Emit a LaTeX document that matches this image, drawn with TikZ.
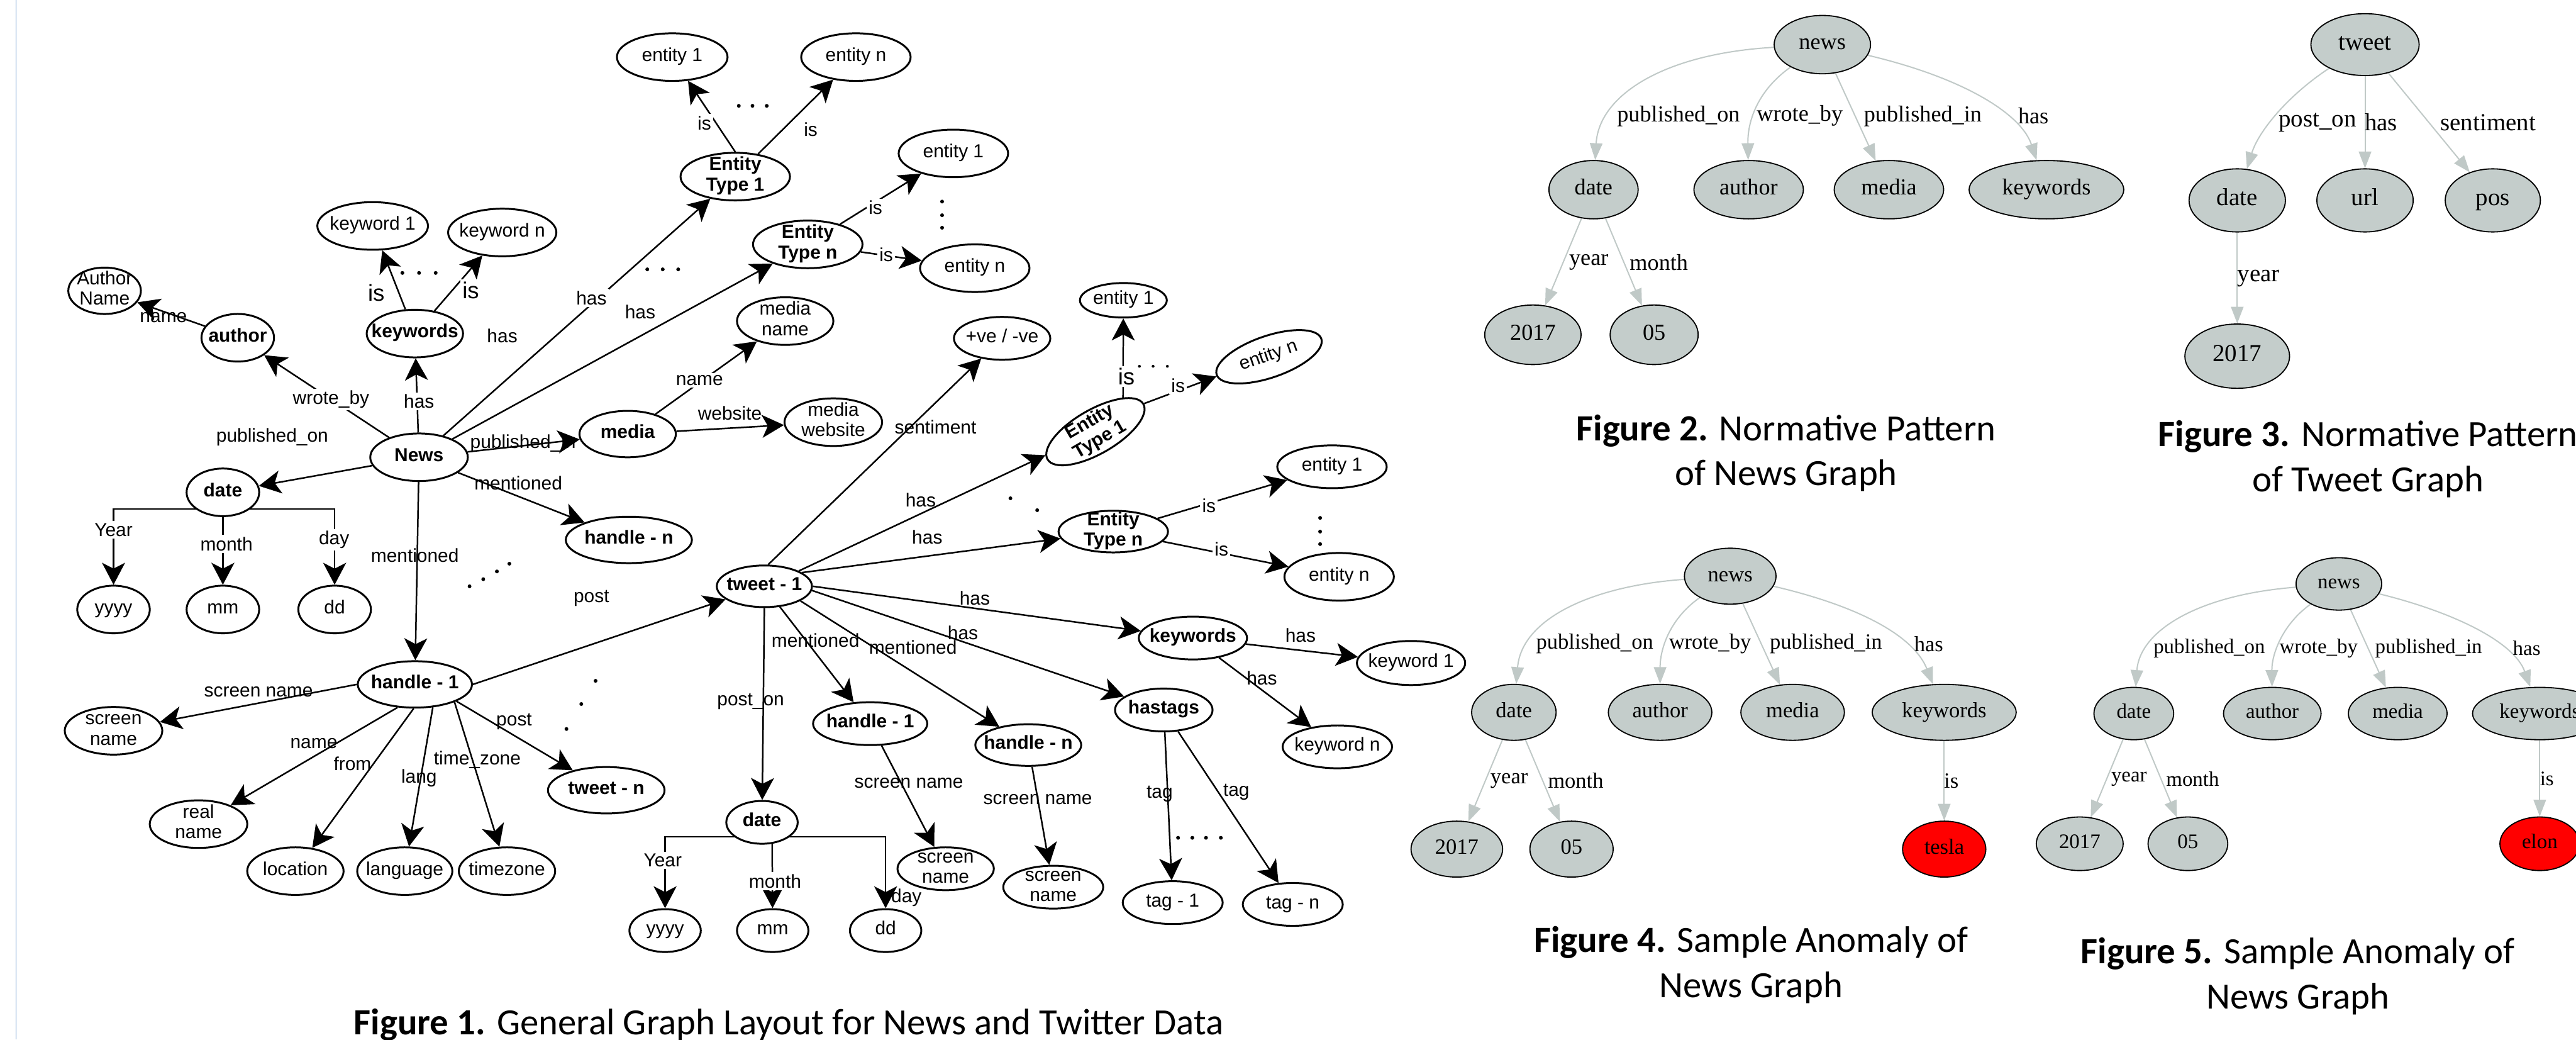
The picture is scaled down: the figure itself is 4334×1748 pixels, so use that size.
\documentclass[tikz,border=0pt]{standalone}
\usepackage{fontspec}
\setmainfont{Liberation Sans}
\newfontfamily\fa{Liberation Sans}
\newfontfamily\fs{Liberation Serif}
\newfontfamily\fc{Carlito}
\usetikzlibrary{shapes.geometric,arrows.meta}
\pgfdeclarelayer{back}
\pgfdeclarelayer{bg}
\pgfsetlayers{back,bg,main}
\definecolor{gvfill}{RGB}{196,205,203}
\definecolor{gvedge}{RGB}{192,201,199}
\definecolor{leftblue}{RGB}{100,150,205}
\newcommand\nt[1]{\makebox[0pt]{\raisebox{-0.25em}[0pt][0pt]{\begin{tabular}{@{}c@{}}#1\end{tabular}}}}
\tikzset{
 sz/.style 2 args={minimum width=#1*0.02cm, minimum height=#2*0.02cm},
 en/.style={ellipse, draw, line width=0.9pt, fill=white, inner sep=0pt, font=\fa\fontsize{9}{9.8}\selectfont},
 eb/.style={en, font=\fa\fontsize{9}{9.8}\selectfont\bfseries},
 ar/.style={line width=0.75pt, -{Stealth[length=10.5pt,width=11pt,inset=2.8pt]}},
 lb/.style={font=\fa\fontsize{9}{10}\selectfont, inner sep=1pt},
 lw/.style={lb, fill=white},
 lbig/.style={lw, font=\fa\fontsize{11}{12}\selectfont},
 gv/.style={ellipse, draw, line width=0.55pt, fill=gvfill, inner sep=0pt},
 gv2/.style={gv, font=\fs\fontsize{10.9}{12}\selectfont},
 gv3/.style={gv, font=\fs\fontsize{11.7}{13}\selectfont},
 gv4/.style={gv, font=\fs\fontsize{10.4}{12}\selectfont},
 gv5/.style={gv, font=\fs\fontsize{9.9}{11}\selectfont},
 gl2/.style={inner sep=0pt, font=\fs\fontsize{10.9}{12}\selectfont},
 gl3/.style={inner sep=0pt, font=\fs\fontsize{11.7}{13}\selectfont},
 gl4/.style={inner sep=0pt, font=\fs\fontsize{10.4}{12}\selectfont},
 gl5/.style={inner sep=0pt, font=\fs\fontsize{9.9}{11}\selectfont},
 ge/.style={draw=gvedge, line width=0.6pt, -{Triangle[length=8pt,width=6pt]}},
 capt/.style={font=\fc\fontsize{17.7}{21.6}\selectfont, align=center, inner sep=0pt},
}
\begin{document}
\begin{tikzpicture}[x=0.01cm, y=-0.01cm]
\useasboundingbox (0,0) rectangle (4334,1748);
\begin{pgfonlayer}{back}
\fill[white] (0,0) rectangle (4334,1748);
\draw[leftblue, line width=0.5pt] (27,0) -- (27,1748);
\end{pgfonlayer}

% ---------------- Figure 1: news part ----------------
\node[en, sz={93}{40}] (e1a) at (1131,96) {\nt{entity 1}};
\node[en, sz={92}{40}] (ena) at (1440,96) {\nt{entity n}};
\node[eb, sz={92}{40}] (et1) at (1237,297) {\nt{Entity\\Type 1}};
\node[en, sz={92}{40}] (e1b) at (1604,258) {\nt{entity 1}};
\node[eb, sz={92}{40}] (etn) at (1359,411) {\nt{Entity\\Type n}};
\node[en, sz={92}{40}] (enb) at (1640,451) {\nt{entity n}};
\node[en, sz={93}{40}] (kw1) at (627,380) {\nt{keyword 1}};
\node[en, sz={91}{40}] (kwn) at (845,391) {\nt{keyword n}};
\node[en, sz={61}{39}] (aname) at (176,489) {\nt{Author\\Name}};
\node[eb, sz={61}{40}] (author) at (400,568) {\nt{author}};
\node[eb, sz={81}{40}] (kws) at (698,561) {\nt{keywords}};
\node[eb, sz={82}{40}] (news) at (705,769) {\nt{News}};
\node[en, sz={81}{40}] (mname) at (1321,540) {\nt{media\\name}};
\node[eb, sz={81}{39}] (media) at (1056,730) {\nt{media}};
\node[en, sz={82}{40}] (mweb) at (1402,710) {\nt{media\\website}};
\node[eb, sz={61}{40}] (date1) at (375,828) {\nt{date}};
\node[en, sz={61}{40}] (yyyy1) at (191,1025) {\nt{yyyy}};
\node[en, sz={61}{40}] (mm1) at (375,1025) {\nt{mm}};
\node[en, sz={61}{40}] (dd1) at (563,1025) {\nt{dd}};
\node[eb, sz={106}{39}] (hn1) at (1058,908) {\nt{handle - n}};
\node[eb, sz={96}{39}] (h1) at (698,1151) {\nt{handle - 1}};
\node[en, sz={82}{40}] (sn1) at (191,1229) {\nt{screen\\name}};
\node[en, sz={82}{40}] (rn) at (334,1386) {\nt{real\\name}};
\node[en, sz={81}{40}] (loc) at (497,1465) {\nt{location}};
\node[en, sz={80}{40}] (lang) at (681,1465) {\nt{language}};
\node[en, sz={81}{40}] (tz) at (853,1465) {\nt{timezone}};
\node[eb, sz={98}{39}] (twn) at (1020,1329) {\nt{tweet - n}};

% ---------------- Figure 1: tweet part ----------------
\node[eb, sz={80}{35}] (tw1) at (1286,986) {\nt{tweet - 1}};
\node[en, sz={81}{36}] (sent) at (1686,569) {\nt{+ve / -ve}};
\node[en, sz={73}{29}] (te1) at (1890,505) {\nt{entity 1}};
\node[en, sz={93}{35}, rotate=19] (ten) at (2135,600) {\nt{entity n}};
\node[eb, sz={93}{37}, rotate=30] (tet1) at (1843,726) {\nt{Entity\\Type 1}};
\node[en, sz={92}{36}] (te1b) at (2241,785) {\nt{entity 1}};
\node[eb, sz={92}{35}] (tetn) at (1873,894) {\nt{Entity\\Type n}};
\node[en, sz={92}{40}] (tenb) at (2253,970) {\nt{entity n}};
\node[eb, sz={91}{36}] (tkw) at (2007,1073) {\nt{keywords}};
\node[en, sz={91}{37}] (tkw1) at (2374,1115) {\nt{keyword 1}};
\node[en, sz={92}{36}] (tkwn) at (2250,1256) {\nt{keyword n}};
\node[eb, sz={82}{36}] (hash) at (1958,1194) {\nt{hastags}};
\node[eb, sz={96}{36}] (th1) at (1464,1217) {\nt{handle - 1}};
\node[eb, sz={89}{35}] (thn) at (1730,1253) {\nt{handle - n}};
\node[eb, sz={60}{36}] (tdate) at (1282,1383) {\nt{date}};
\node[en, sz={60}{36}] (tyyyy) at (1119,1565) {\nt{yyyy}};
\node[en, sz={60}{36}] (tmm) at (1300,1565) {\nt{mm}};
\node[en, sz={60}{36}] (tdd) at (1490,1565) {\nt{dd}};
\node[en, sz={81}{36}] (tsn1) at (1591,1461) {\nt{screen\\name}};
\node[en, sz={84}{36}] (tsn2) at (1772,1492) {\nt{screen\\name}};
\node[en, sz={84}{36}] (tag1) at (1973,1518) {\nt{tag - 1}};
\node[en, sz={84}{36}] (tagn) at (2175,1521) {\nt{tag - n}};

\coordinate (d1l) at (375,856);
\coordinate (d2l) at (1282,1407);
\coordinate (d2m) at (1299,1405);

\begin{pgfonlayer}{bg}
\draw[ar] (news) -- (author);
\draw[ar] (author) -- (aname);
\draw[ar] (news) -- (kws);
\draw[ar] (kws) -- (kw1);
\draw[ar] (kws) -- (kwn);
\draw[ar] (news) -- (et1);
\draw[ar] (news) -- (etn);
\draw[ar] (et1.north) -- (e1a);
\draw[ar] (et1) -- (ena);
\draw[ar] (etn) -- (e1b);
\draw[ar] (etn) -- (enb);
\draw[ar] (news) -- (media);
\draw[ar] (media) -- (mname);
\draw[ar] (media) -- (mweb);
\draw[ar] (news) -- (date1);
\draw[ar] (news) -- (hn1);
\draw[ar] (news) -- (h1);
\draw[ar] (d1l) -| (yyyy1);
\draw[ar] (d1l) -| (dd1);
\draw[ar] (date1) -- (mm1);
\draw[ar] (h1.west) -- (sn1);
\draw[ar] (h1.-127) -- (rn);
\draw[ar] (h1.-93) -- (loc);
\draw[ar] (h1.-52) -- (lang);
\draw[ar] (h1.-24) -- (tz);
\draw[ar] (h1.-22) -- (twn);
\draw[ar] (h1.east) -- (tw1);
\draw[ar] (tw1.80) -- (sent);
\draw[ar] (tw1.24) -- (tet1);
\draw[ar] (tw1.20) -- (tetn);
\draw[ar] (tw1.east) -- (tkw);
\draw[ar] (tw1.-5) -- (hash);
\draw[ar] (tw1.-22) -- (thn);
\draw[ar] (tw1.-53) -- (th1);
\draw[ar] (tw1.south) -- (tdate);
\draw[ar] (tet1.21) -- (te1);
\draw[ar] (tet1.east) -- (ten);
\draw[ar] (tetn) -- (te1b);
\draw[ar] (tetn) -- (tenb);
\draw[ar] (tkw) -- (tkw1);
\draw[ar] (tkw) -- (tkwn);
\draw[ar] (hash) -- (tag1);
\draw[ar] (hash) -- (tagn);
\draw[ar] (th1) -- (tsn1);
\draw[ar] (thn) -- (tsn2);
\draw[ar] (d2l) -| (tyyyy);
\draw[ar] (d2l) -| (tdd);
\draw[ar] (d2m) -- (tmm);
\end{pgfonlayer}

% labels figure 1
\node[lb] (lname) at (275,534) {name};
\node[lw] (lwrote) at (557,672) {wrote\_by};
\node[lw] (lhas1) at (705,675) {has};
\node[lbig] (lis1) at (633,492) {is};
\node[lbig] (lis2) at (792,488) {is};
\node[lb] (lhas2) at (845,565) {has};
\node[lw] (lhas3) at (995,501) {has};
\node[lw] (lhas4) at (1077,525) {has};
\node[lb] (lpubon) at (458,735) {published\_on};
\node[lb] (lpubin) at (880,746) {published\_in};
\node[lb] (lmen1) at (872,812) {mentioned};
\node[lw] (lis3) at (1185,207) {is};
\node[lw] (lis4) at (1364,218) {is};
\node[lw] (lis5) at (1473,349) {is};
\node[lw] (lis6) at (1491,428) {is};
\node[lw] (lmn) at (1177,640) {name};
\node[lb] (lweb) at (1228,695) {website};
\node[lb] (lsent) at (1574,718) {sentiment};
\node[lb] (lmen2) at (698,934) {mentioned};
\node[lw] (lyear1) at (191,891) {Year};
\node[lw] (lmonth1) at (381,915) {month};
\node[lw] (lday1) at (562,908) {day};
\node[lb] (lpost1) at (995,1006) {post};
\node[lb] (lsn) at (435,1163) {screen name};
\node[lb] (lname2) at (528,1250) {name};
\node[lb] (lfrom) at (593,1284) {from};
\node[lb] (llang) at (705,1309) {lang};
\node[lb] (ltz) at (803,1278) {time\_zone};
\node[lb] (lpost2) at (865,1214) {post};
\node[lbig] (lis7) at (1895,633) {is};
\node[lw] (lis8) at (1982,648) {is};
\node[lb] (lhas5) at (1549,841) {has};
\node[lb] (lhas6) at (1560,903) {has};
\node[lw] (lis9) at (2034,851) {is};
\node[lw] (lis10) at (2055,924) {is};
\node[lb] (lhas7) at (1640,1006) {has};
\node[lb] (lhas8) at (1620,1064) {has};
\node[lb] (lmen3) at (1372,1077) {mentioned};
\node[lb] (lmen4) at (1536,1089) {mentioned};
\node[lb] (lposton) at (1263,1180) {post\_on};
\node[lb] (lsn2) at (1529,1317) {screen name};
\node[lb] (lsn3) at (1746,1344) {screen name};
\node[lb] (ltag1) at (1951,1335) {tag};
\node[lb] (ltag2) at (2080,1332) {tag};
\node[lb] (lhas9) at (2188,1068) {has};
\node[lb] (lhas10) at (2123,1140) {has};
\node[lw] (lyear2) at (1115,1447) {Year};
\node[lw] (lmonth2) at (1304,1482) {month};
\node[lb] (lday2) at (1525,1510) {day};

% dots
\foreach \p in {(677,459),(705,459),(733,459),(1089,453),(1115,453),(1141,453),
  (1243,178),(1266,178),(1290,178),(1585,339),(1585,362),(1585,383),
  (790,986),(813,974),(836,961),(857,948),(1002,1145),(978,1184),(953,1226),
  (1700,838),(1745,858),(2221,871),(2221,894),(2221,915),
  (1982,1409),(2006,1409),(2029,1409),(2054,1409)}
  \fill \p circle[radius=3.2];
\foreach \p in {(1917,616),(1940,616),(1964,616)}
  \fill \p circle[radius=2.4];

% ---------------- Figure 2 ----------------
\node[gv2, sz={81}{49}] (n2) at (3066,75) {\nt{news}};
\node[gv2, sz={75}{49}] (d2) at (2681,319) {\nt{date}};
\node[gv2, sz={92}{49}] (a2) at (2942,319) {\nt{author}};
\node[gv2, sz={92}{49}] (m2) at (3178,319) {\nt{media}};
\node[gv2, sz={130}{49}] (k2) at (3443,319) {\nt{keywords}};
\node[gv2, sz={81}{50}] (y2) at (2579,563) {\nt{2017}};
\node[gv2, sz={74}{50}] (mo2) at (2783,563) {\nt{05}};
\node[gl2] (g2a) at (2824,195) {published\_on};
\node[gl2] (g2b) at (3028,195) {wrote\_by};
\node[gl2] (g2c) at (3235,195) {published\_in};
\node[gl2] (g2d) at (3421,195) {has};
\node[gl2] (g2e) at (2673,441) {year};
\node[gl2] (g2f) at (2791,441) {month};

% ---------------- Figure 3 ----------------
\node[gv3, sz={91}{52}] (n3) at (3979,75) {\nt{tweet}};
\node[gv3, sz={81}{53}] (d3) at (3764,337) {\nt{date}};
\node[gv3, sz={81}{53}] (u3) at (3979,337) {\nt{url}};
\node[gv3, sz={80}{53}] (p3) at (4194,337) {\nt{pos}};
\node[gv3, sz={88}{54}] (y3) at (3764,599) {\nt{2017}};
\node[gl3] (g3a) at (3899,206) {post\_on};
\node[gl3] (g3b) at (4006,206) {has};
\node[gl3] (g3c) at (4186,206) {sentiment};
\node[gl3] (g3d) at (3800,468) {year};

% ---------------- Figure 4 ----------------
\node[gv4, sz={77}{47}] (n4) at (2911,969) {\nt{news}};
\node[gv4, sz={71}{47}] (d4) at (2547,1198) {\nt{date}};
\node[gv4, sz={87}{47}] (a4) at (2793,1198) {\nt{author}};
\node[gv4, sz={87}{47}] (m4) at (3016,1198) {\nt{media}};
\node[gv4, sz={121}{47}] (k4) at (3271,1198) {\nt{keywords}};
\node[gv4, sz={77}{47}] (y4) at (2451,1428) {\nt{2017}};
\node[gv4, sz={70}{47}] (mo4) at (2644,1428) {\nt{05}};
\node[gv4, sz={70}{47}, fill=red] (t4) at (3271,1428) {\nt{tesla}};
\node[gl4] (g4a) at (2683,1083) {published\_on};
\node[gl4] (g4b) at (2877,1083) {wrote\_by};
\node[gl4] (g4c) at (3072,1083) {published\_in};
\node[gl4] (g4d) at (3245,1083) {has};
\node[gl4] (g4e) at (2539,1313) {year};
\node[gl4] (g4f) at (2651,1313) {month};
\node[gl4] (g4g) at (3283,1313) {is};

% ---------------- Figure 5 ----------------
\node[gv5, sz={72}{44}] (n5) at (3935,982) {\nt{news}};
\node[gv5, sz={67}{44}] (d5) at (3590,1200) {\nt{date}};
\node[gv5, sz={82}{44}] (a5) at (3823,1200) {\nt{author}};
\node[gv5, sz={83}{44}] (m5) at (4034,1200) {\nt{media}};
\node[gv5, sz={113}{44}] (k5) at (4273,1200) {\nt{keywords}};
\node[gv5, sz={73}{45}] (y5) at (3499,1419) {\nt{2017}};
\node[gv5, sz={67}{45}] (mo5) at (3681,1419) {\nt{05}};
\node[gv5, sz={67}{45}, fill=red] (e5) at (4273,1419) {\nt{elon}};
\node[gl5] (g5a) at (3717,1090) {published\_on};
\node[gl5] (g5b) at (3901,1090) {wrote\_by};
\node[gl5] (g5c) at (4086,1090) {published\_in};
\node[gl5] (g5d) at (4251,1090) {has};
\node[gl5] (g5e) at (3582,1310) {year};
\node[gl5] (g5f) at (3689,1310) {month};
\node[gl5] (g5g) at (4285,1310) {is};

\begin{pgfonlayer}{bg}
\draw[ge] (n2) .. controls (2800,90) and (2690,160) .. (d2);
\draw[ge] (n2) .. controls (2960,150) and (2940,200) .. (a2);
\draw[ge] (n2) -- (m2);
\draw[ge] (n2) .. controls (3300,130) and (3400,190) .. (k2);
\draw[ge] (d2) -- (y2);
\draw[ge] (d2) -- (mo2);
\draw[ge] (n3) .. controls (3850,160) and (3800,220) .. (d3);
\draw[ge] (n3) -- (u3);
\draw[ge] (n3) -- (p3);
\draw[ge] (d3) -- (y3);
\draw[ge] (n4) .. controls (2680,985) and (2560,1040) .. (d4);
\draw[ge] (n4) .. controls (2810,1040) and (2793,1090) .. (a4);
\draw[ge] (n4) -- (m4);
\draw[ge] (n4) .. controls (3130,1020) and (3220,1070) .. (k4);
\draw[ge] (d4) -- (y4);
\draw[ge] (d4) -- (mo4);
\draw[ge] (k4) -- (t4);
\draw[ge] (n5) .. controls (3700,1000) and (3600,1060) .. (d5);
\draw[ge] (n5) .. controls (3840,1050) and (3822,1100) .. (a5);
\draw[ge] (n5) -- (m5);
\draw[ge] (n5) .. controls (4130,1030) and (4230,1080) .. (k5);
\draw[ge] (d5) -- (y5);
\draw[ge] (d5) -- (mo5);
\draw[ge] (k5) -- (e5);
\end{pgfonlayer}

% captions
\node[capt] (c1) at (1327,1723) {\textbf{Figure 1.} General Graph Layout for News and Twitter Data};
\node[capt] (c2) at (3005,762) {\textbf{Figure 2.} Normative Pattern\\of News Graph};
\node[capt] (c3) at (3984,772) {\textbf{Figure 3.} Normative Pattern\\of Tweet Graph};
\node[capt] (c4) at (2946,1623) {\textbf{Figure 4.} Sample Anomaly of\\News Graph};
\node[capt] (c5) at (3866,1642) {\textbf{Figure 5.} Sample Anomaly of\\News Graph};
\end{tikzpicture}
\end{document}
